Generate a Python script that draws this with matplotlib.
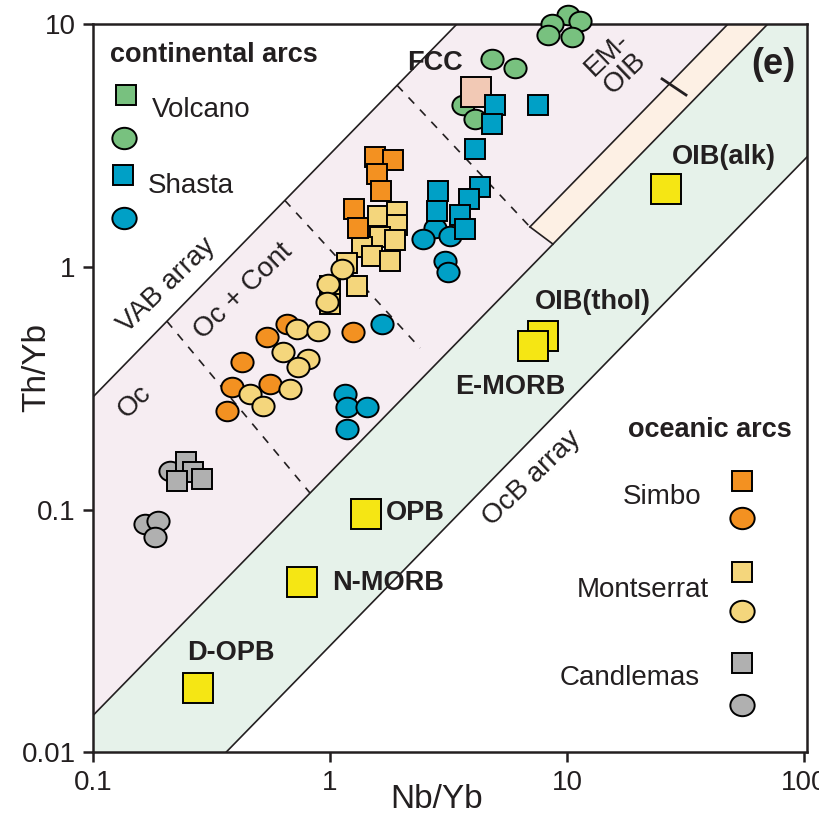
import numpy as np
import matplotlib
matplotlib.use("Agg")
import matplotlib.pyplot as plt
from matplotlib.path import Path
from matplotlib.transforms import Affine2D
from matplotlib.ticker import NullLocator

plt.rcParams['font.family'] = ['Liberation Sans', 'DejaVu Sans']

# Field boundaries (Th/Yb = k * Nb/Yb, parallel to the MORB-OIB array)
VAB_UPPER = 2.91
ARRAY_UPPER = 0.142
ARRAY_LOWER = 0.0275
EMOIB_UPPER = 0.209

# dashed dividers inside the VAB array: ([x0, x1], [y0, y1])
oc_split = ([0.205, 0.824], [0.597, 0.117])
cont_split = ([0.645, 2.40], [1.877, 0.463])
fcc_split = ([1.92, 6.98], [5.59, 1.46])
emoib_base = ([6.98, 8.73], [1.46, 1.24])
emoib_tick = ([25.2, 31.8], [5.94, 5.10])

# continental arcs
volcano_circ_x = [10.1, 8.61, 11.35, 8.34, 10.47, 4.81, 6.03, 3.65, 4.09]
volcano_circ_y = [10.9, 10.0, 10.3, 9.01, 8.82, 7.18, 6.57, 4.64, 4.06]
shasta_sq_x = [4.97, 7.57, 4.81, 4.09, 2.86, 2.82, 4.30, 3.87, 3.54, 3.71]
shasta_sq_y = [4.64, 4.65, 3.87, 3.06, 2.06, 1.70, 2.13, 1.90, 1.63, 1.43]
shasta_circ_x = [2.77, 2.46, 3.21, 3.06, 3.14, 1.65, 1.157, 1.176, 1.428, 1.176]
shasta_circ_y = [1.45, 1.30, 1.335, 1.06, 0.949, 0.581, 0.299, 0.264, 0.264, 0.215]

# oceanic arcs
simbo_sq_x = [1.549, 1.839, 1.583, 1.641, 1.262, 1.316]
simbo_sq_y = [2.825, 2.76, 2.41, 2.06, 1.73, 1.44]
simbo_circ_x = [0.657, 0.541, 0.424, 1.254, 0.558, 0.385, 0.367]
simbo_circ_y = [0.581, 0.513, 0.404, 0.537, 0.329, 0.319, 0.2555]
mont_sq_x = [1.594, 1.918, 1.918, 1.625, 1.88, 1.365, 1.504, 1.792, 1.18, 1.30, 1.0, 1.0]
mont_sq_y = [1.62, 1.682, 1.486, 1.327, 1.289, 1.206, 1.108, 1.056, 1.037, 0.833, 0.833, 0.703]
mont_circ_x = [1.12, 0.984, 0.968, 0.723, 0.893, 0.635, 0.81, 0.735, 0.678, 0.46, 0.523]
mont_circ_y = [0.979, 0.85, 0.714, 0.554, 0.545, 0.445, 0.417, 0.386, 0.314, 0.299, 0.268]
candle_sq_x = [0.247, 0.2634, 0.2256, 0.2875]
candle_sq_y = [0.1566, 0.1425, 0.1315, 0.1337]
candle_circ_x = [0.2113, 0.1657, 0.1886, 0.1827]
candle_circ_y = [0.1446, 0.0873, 0.09, 0.0769]

# reference compositions
ref_names = ['OIB(alk)', 'OIB(thol)', 'E-MORB', 'OPB', 'N-MORB', 'D-OPB']
ref_x = [26.3, 7.94, 7.21, 1.415, 0.764, 0.2765]
ref_y = [2.09, 0.520, 0.473, 0.0959, 0.0505, 0.01837]
ref_label_pos = [(0.8835, 0.8178), (0.7007, 0.6188), (0.5847, 0.5021),
                 (0.451, 0.3283), (0.4139, 0.2323), (0.1933, 0.1362)]
fcc_x, fcc_y = [4.13], [5.26]

PINK = '#f6edf2'
CREAM = '#fdf0e4'
MINT = '#e6f2ea'
INK = '#231f20'
C_GREEN = '#78c17f'
C_BLUE = '#00a0c6'
C_ORANGE = '#f39121'
C_PALE = '#f4d67c'
C_GREY = '#b0b0b0'
C_REF = '#f5e614'
C_FCC = '#f2c9b5'

oval = Path.unit_circle().transformed(Affine2D().scale(1.0, 0.88))

fig = plt.figure(figsize=(8.2, 8.18), dpi=100)
ax = fig.add_axes([0.1134, 0.0801, 0.8707, 0.8906])
ax.set_xscale('log')
ax.set_yscale('log')
ax.set_xlim(0.1, 103)
ax.set_ylim(0.01, 10)

xx = np.array([0.1, 103.0])
ax.fill_between(xx, VAB_UPPER * xx, ARRAY_UPPER * xx, color=PINK, lw=0, zorder=0)
ax.fill_between(xx, ARRAY_UPPER * xx, ARRAY_LOWER * xx, color=MINT, lw=0, zorder=0)
cream_x = [emoib_base[0][0], 100, 100, emoib_base[0][1]]
cream_y = [emoib_base[1][0], EMOIB_UPPER * 100, ARRAY_UPPER * 100, emoib_base[1][1]]
ax.fill(cream_x, cream_y, color=CREAM, lw=0, zorder=0.5)

lk = dict(color=INK, lw=1.2, zorder=1)
ax.plot(xx, VAB_UPPER * xx, **lk)
ax.plot(xx, ARRAY_UPPER * xx, **lk)
ax.plot(xx, ARRAY_LOWER * xx, **lk)
ax.plot([emoib_base[0][0], 100], [emoib_base[1][0], EMOIB_UPPER * 100], **lk)
ax.plot(*emoib_base, **lk)
ax.plot(*emoib_tick, color=INK, lw=2.0, zorder=1)
for seg in (oc_split, cont_split, fcc_split):
    ax.plot(*seg, color=INK, lw=1.2, ls=(0, (5, 5)), zorder=1)


def pts(x, y, marker, color, ms):
    ax.plot(x, y, ls='none', marker=marker, ms=ms, mfc=color, mec='black',
            mew=1.4, clip_on=False, zorder=3)


SQ, CI = 14, 16
pts(volcano_circ_x, volcano_circ_y, oval, C_GREEN, CI)
pts(fcc_x, fcc_y, 's', C_FCC, 21)
pts(shasta_circ_x, shasta_circ_y, oval, C_BLUE, CI)
pts(shasta_sq_x, shasta_sq_y, 's', C_BLUE, SQ)
pts(mont_sq_x, mont_sq_y, 's', C_PALE, SQ)
pts(simbo_sq_x, simbo_sq_y, 's', C_ORANGE, SQ)
pts(simbo_circ_x, simbo_circ_y, oval, C_ORANGE, CI)
pts(mont_circ_x, mont_circ_y, oval, C_PALE, CI)
pts(candle_circ_x, candle_circ_y, oval, C_GREY, CI)
pts(candle_sq_x, candle_sq_y, 's', C_GREY, SQ)
pts(ref_x, ref_y, 's', C_REF, 21)

bold = dict(fontsize=19.5, fontweight='bold', color=INK, transform=ax.transAxes)
for name, (tx, ty) in zip(ref_names, ref_label_pos):
    ax.text(tx, ty, name, ha='center', va='center', **bold)
ax.text(0.518, 0.9465, 'FCC', ha='right', va='center', **bold)
ax.text(0.9528, 0.9437, '(e)', ha='center', va='center', fontsize=26,
        fontweight='bold', color=INK, transform=ax.transAxes)

reg = dict(fontsize=20, color=INK, transform=ax.transAxes, ha='center', va='center')
ax.text(0.1032, 0.6417, 'VAB array', rotation=44, **reg)
ax.text(0.2105, 0.6335, 'Oc + Cont', rotation=44, **reg)
ax.text(0.0588, 0.4815, 'Oc', rotation=44, **reg)
ax.text(0.6144, 0.3764, 'OcB array', rotation=44, **reg)
ax.text(0.7325, 0.945, 'EM-\nOIB', rotation=44, linespacing=1.0, **reg)

# legend: continental arcs
ax.text(0.0238, 0.9575, 'continental arcs', ha='left', va='center', **bold)
lg = dict(ls='none', mec='black', mew=1.4, transform=ax.transAxes, clip_on=False, zorder=4)
ax.plot([0.0462], [0.9025], marker='s', ms=14.5, mfc=C_GREEN, **lg)
ax.plot([0.0434], [0.8437], marker=oval, ms=17.5, mfc=C_GREEN, **lg)
ax.plot([0.042], [0.7927], marker='s', ms=14.5, mfc=C_BLUE, **lg)
ax.plot([0.0434], [0.7337], marker=oval, ms=17.5, mfc=C_BLUE, **lg)
ax.text(0.0826, 0.882, 'Volcano', ha='left', va='center', fontsize=20, color=INK,
        transform=ax.transAxes)
ax.text(0.077, 0.7779, 'Shasta', ha='left', va='center', fontsize=20, color=INK,
        transform=ax.transAxes)

# legend: oceanic arcs
ax.text(0.979, 0.4427, 'oceanic arcs', ha='right', va='center', **bold)
for col, ys, ycirc in ((C_ORANGE, 0.3731, 0.3215), (C_PALE, 0.2482, 0.1946),
                       (C_GREY, 0.1233, 0.0652)):
    ax.plot([0.9094], [ys], marker='s', ms=14.5, mfc=col, **lg)
    ax.plot([0.9094], [ycirc], marker=oval, ms=17.5, mfc=col, **lg)
for name, tx, ty in (('Simbo', 0.8525, 0.3511), ('Montserrat', 0.8632, 0.2231),
                     ('Candlemas', 0.8492, 0.1019)):
    ax.text(tx, ty, name, ha='right', va='center', fontsize=20, color=INK,
            transform=ax.transAxes)

ax.set_xticks([0.1, 1, 10, 100], ['0.1', '1', '10', '100'])
ax.set_yticks([0.01, 0.1, 1, 10], ['0.01', '0.1', '1', '10'])
ax.xaxis.set_minor_locator(NullLocator())
ax.yaxis.set_minor_locator(NullLocator())
ax.tick_params(length=7.5, width=1.8, labelsize=20, pad=5, color=INK, labelcolor=INK)
for sp in ax.spines.values():
    sp.set_linewidth(1.8)
    sp.set_color(INK)

ax.set_xlabel('Nb/Yb', fontsize=24, color=INK, va='center')
ax.xaxis.set_label_coords(0.4818, -0.0652)
ax.set_ylabel('Th/Yb', fontsize=24, color=INK, va='center')
ax.yaxis.set_label_coords(-0.0784, 0.5278)

fig.savefig('out.png', dpi=100)
